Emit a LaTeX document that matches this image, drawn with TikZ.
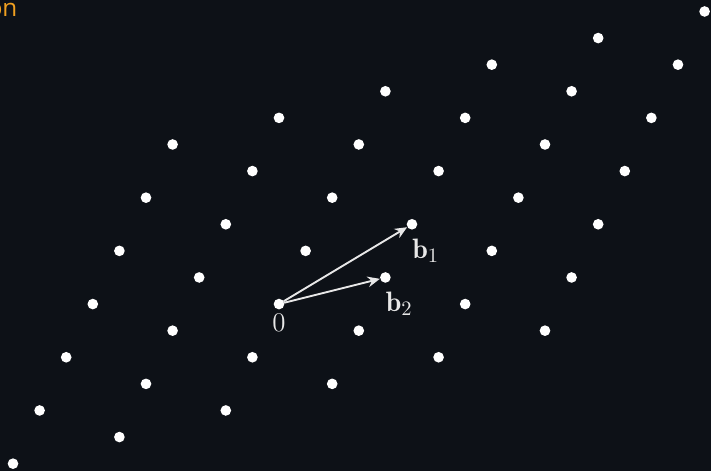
\documentclass[tikz,border=0pt]{standalone}
\usepackage{amsmath,amssymb}
\usepackage{fontspec}
\newfontfamily\headfont{Open Sans}
\usetikzlibrary{arrows.meta,positioning}
\definecolor{bgdark}{HTML}{0D1117}
\definecolor{headorange}{HTML}{F0A020}
\definecolor{veclight}{HTML}{E8E8E8}

\begin{document}
\begin{tikzpicture}[x=0.5cm,y=0.5cm]
\tikzset{
  latpt/.style={circle,fill=white,draw=none,inner sep=0pt,minimum size=2mm},
  basisvec/.style={draw=veclight,line width=1pt,line cap=round,-{Stealth[length=2.3mm,width=2mm]}},
  veclabel/.style={text=veclight,inner sep=0pt,font=\fontsize{15}{18}\selectfont}
}
\fill[bgdark] (-10.489,-6.276) rectangle (16.241,11.431);
\useasboundingbox (-10.489,-6.276) rectangle (16.241,11.431);
\node[anchor=base east,text=headorange,inner sep=0pt,font=\headfont\fontsize{13}{15}\selectfont] (n_head) at (-9.82,10.80) {on};
\node[latpt] (n_00) at (-10,-6) {};
\node[latpt] (n_01) at (-6,-5) {};
\node[latpt] (n_02) at (-2,-4) {};
\node[latpt] (n_03) at (2,-3) {};
\node[latpt] (n_04) at (6,-2) {};
\node[latpt] (n_05) at (10,-1) {};
\node[latpt] (n_10) at (-9,-4) {};
\node[latpt] (n_11) at (-5,-3) {};
\node[latpt] (n_12) at (-1,-2) {};
\node[latpt] (n_13) at (3,-1) {};
\node[latpt] (n_14) at (7,0) {};
\node[latpt] (n_15) at (11,1) {};
\node[latpt] (n_20) at (-8,-2) {};
\node[latpt] (n_21) at (-4,-1) {};
\node[latpt] (n_22) at (0,0) {};
\node[latpt] (n_23) at (4,1) {};
\node[latpt] (n_24) at (8,2) {};
\node[latpt] (n_25) at (12,3) {};
\node[latpt] (n_30) at (-7,0) {};
\node[latpt] (n_31) at (-3,1) {};
\node[latpt] (n_32) at (1,2) {};
\node[latpt] (n_33) at (5,3) {};
\node[latpt] (n_34) at (9,4) {};
\node[latpt] (n_35) at (13,5) {};
\node[latpt] (n_40) at (-6,2) {};
\node[latpt] (n_41) at (-2,3) {};
\node[latpt] (n_42) at (2,4) {};
\node[latpt] (n_43) at (6,5) {};
\node[latpt] (n_44) at (10,6) {};
\node[latpt] (n_45) at (14,7) {};
\node[latpt] (n_50) at (-5,4) {};
\node[latpt] (n_51) at (-1,5) {};
\node[latpt] (n_52) at (3,6) {};
\node[latpt] (n_53) at (7,7) {};
\node[latpt] (n_54) at (11,8) {};
\node[latpt] (n_55) at (15,9) {};
\node[latpt] (n_60) at (-4,6) {};
\node[latpt] (n_61) at (0,7) {};
\node[latpt] (n_62) at (4,8) {};
\node[latpt] (n_63) at (8,9) {};
\node[latpt] (n_64) at (12,10) {};
\node[latpt] (n_65) at (16,11) {};
\draw[basisvec] (n_22) -- (n_33);
\draw[basisvec] (n_22) -- (n_23);
\node[veclabel,anchor=north west] (l_b1) at ([yshift=-1.6mm]n_33.south) {$\mathbf{b}_1$};
\node[veclabel,anchor=north west] (l_b2) at ([yshift=-1.6mm]n_23.south) {$\mathbf{b}_2$};
\node[veclabel,anchor=north] (l_zero) at ([yshift=-0.7mm]n_22.south) {$0$};
\end{tikzpicture}
\end{document}
